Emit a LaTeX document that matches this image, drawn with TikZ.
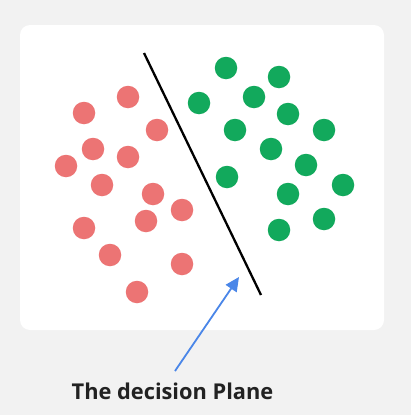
\documentclass[tikz,border=0pt]{standalone}
\usepackage{fontspec}
\setmainfont{Open Sans}
\usetikzlibrary{arrows.meta, positioning}
\definecolor{pagegray}{HTML}{F2F2F2}
\definecolor{dotred}{HTML}{EC7474}
\definecolor{dotgreen}{HTML}{12A95C}
\definecolor{arrowblue}{HTML}{4A86E8}
\definecolor{textdark}{HTML}{222222}

\begin{document}
\begin{tikzpicture}[x=1pt, y=-1pt,
    dot/.style={circle, inner sep=0pt, minimum size=22.5pt},
    reddot/.style={dot, fill=dotred},
    greendot/.style={dot, fill=dotgreen},
    planeline/.style={black, line width=2.3pt},
    planearrow/.style={arrowblue, line width=1.8pt, -{Triangle[length=14pt, width=13pt]}}]
        % Hintergrund
        \fill[pagegray] (0,0) rectangle (411,415);
        \useasboundingbox (0,0) rectangle (411,415);
        \fill[white, rounded corners=10pt] (20,25) rectangle (384,330);
        % Klasse 1 (rot)
        \foreach \px/\py [count=\i] in {128/97, 84/113, 157/130, 93/149, 128/157, 66/166, 102/185,
                                        153/194, 182/210, 146/221, 84/228, 110/255, 182/264, 137/292}
          \node[reddot] (red\i) at (\px,\py) {};
        % Klasse 2 (gruen)
        \foreach \px/\py [count=\i] in {226/68, 279/77, 199/103, 254/97, 288/114, 235/130, 324/130,
                                        271/149, 306/165, 227/177, 343/185, 288/194, 324/219, 279/230}
          \node[greendot] (green\i) at (\px,\py) {};
        % Trennebene
        \coordinate (planetop) at (144,53);
        \coordinate (planebot) at (261,295);
        \draw[planeline] (planetop) -- (planebot);
        % Beschriftung
        \node[textdark, anchor=base, inner sep=0pt, font=\fontsize{21.8}{26}\selectfont\bfseries]
          (planelabel) at (172.5,399) {The decision Plane};
        \coordinate (arrowtail) at (175,371);
        \coordinate (arrowtip) at (239,277);
        \draw[planearrow] (arrowtail) -- (arrowtip);
      \end{tikzpicture}
\end{document}
